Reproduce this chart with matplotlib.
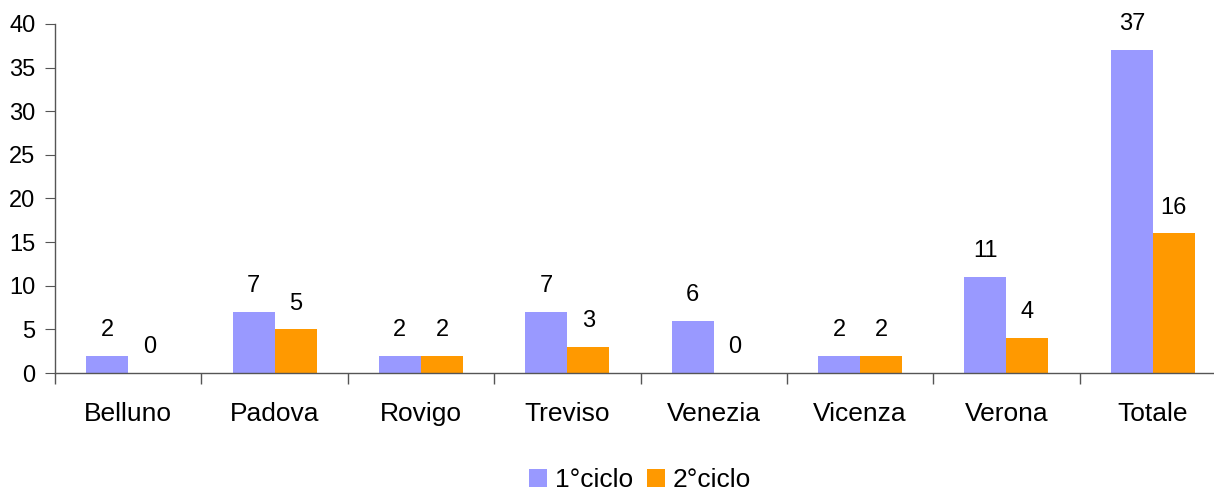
import matplotlib
matplotlib.use("Agg")
import matplotlib.pyplot as plt
import numpy as np

categories = ["Belluno", "Padova", "Rovigo", "Treviso", "Venezia", "Vicenza", "Verona", "Totale"]
ciclo1 = [2, 7, 2, 7, 6, 2, 11, 37]
ciclo2 = [0, 5, 2, 3, 0, 2, 4, 16]
series_names = ["1°ciclo", "2°ciclo"]
colors = ["#9999FF", "#FF9900"]

plt.rcParams['font.family'] = ['Liberation Sans', 'DejaVu Sans']

W, H = 1214, 490
fig = plt.figure(figsize=(W / 100, H / 100), dpi=100)
left, right = 55, 1226
bottom, top = 373, 24
ax = fig.add_axes([left / W, 1 - bottom / H, (right - left) / W, (bottom - top) / H])

n = len(categories)
x = np.arange(n)
bw = 0.287
b1 = ax.bar(x - bw / 2, ciclo1, bw, color=colors[0], label=series_names[0])
b2 = ax.bar(x + bw / 2, ciclo2, bw, color=colors[1], label=series_names[1])

for bars, vals in ((b1, ciclo1), (b2, ciclo2)):
    for r, v in zip(bars, vals):
        ax.annotate(str(v), (r.get_x() + r.get_width() / 2, v), xytext=(0, 18.5),
                    textcoords="offset points", ha="center", va="center", fontsize=17)

ax.set_xlim(-0.5, n - 0.5)
ax.set_ylim(0, 40)
ax.set_yticks(range(0, 41, 5))
ax.set_xticks(np.arange(-0.5, n, 1.0))
ax.set_xticklabels([])
ax.set_xticks(x, minor=True)
ax.set_xticklabels(categories, minor=True, fontsize=19)
ax.tick_params(axis='x', which='minor', length=0, pad=21)
ax.tick_params(axis='x', which='major', length=8, direction='out', color='#555555', width=1)
ax.tick_params(axis='y', length=7, direction='out', color='#555555', labelsize=17, pad=7)

for s in ['top', 'right']:
    ax.spines[s].set_visible(False)
for s in ['left', 'bottom']:
    ax.spines[s].set_color('#555555')
    ax.spines[s].set_linewidth(1)

leg = fig.legend(handles=[b1, b2], loc='center', bbox_to_anchor=(640 / W, 1 - 480 / H),
                 ncol=2, frameon=False, fontsize=19, handlelength=0.7, handleheight=0.7,
                 handletextpad=0.3, columnspacing=0.5, borderpad=0.0)

fig.savefig("out.png", dpi=100)
